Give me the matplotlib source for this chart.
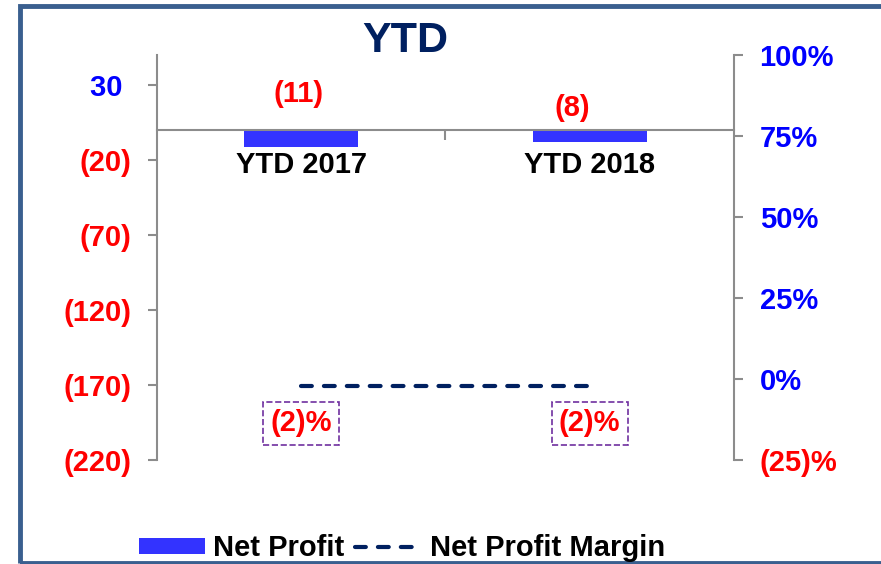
import numpy as np
import matplotlib.pyplot as plt
from matplotlib.patches import Rectangle, Patch
from matplotlib.lines import Line2D

plt.rcParams['font.family'] = ['Liberation Sans', 'DejaVu Sans']
plt.rcParams['font.weight'] = 'bold'

categories = ["YTD 2017", "YTD 2018"]
net_profit = [-11, -8]
profit_margin = [-2, -2]

left_ticks = [30, -20, -70, -120, -170, -220]
right_ticks = [100, 75, 50, 25, 0, -25]

blue = "#3333FF"
navy = "#002060"
red = "#FF0000"
tick_blue = "#0000FF"
grey = "#8C8C8C"
fs = 21

fig = plt.figure(figsize=(8.81, 5.64), dpi=100)
ax = fig.add_axes([0.178, 0.184, 0.655, 0.718])
ax2 = ax.twinx()

x = np.arange(len(categories))
ax.bar(x, net_profit, width=0.395, color=blue, zorder=2)
ax.set_xlim(-0.5, 1.5)
ax.set_ylim(-220, 50)
ax2.set_ylim(-25, 100)

ax2.plot(x, profit_margin, color=navy, lw=3, dashes=(2.6, 2.9),
         dash_capstyle='round', zorder=3)


def fmt_num(v):
    # positive numbers keep a trailing space, like the accounting format
    return f"({abs(v)})" if v < 0 else f"{v} "


def fmt_pct(v):
    return f"({abs(v)})%" if v < 0 else f"{v}%"


ax.set_yticks(left_ticks)
ax.set_yticklabels([fmt_num(v) for v in left_ticks])
for lab, v in zip(ax.get_yticklabels(), left_ticks):
    lab.set_color(red if v < 0 else tick_blue)
ax2.set_yticks(right_ticks)
ax2.set_yticklabels([fmt_pct(v) for v in right_ticks])
for lab, v in zip(ax2.get_yticklabels(), right_ticks):
    lab.set_color(red if v < 0 else tick_blue)

ax.tick_params(axis='y', direction='out', length=6.5, width=1.5, color=grey,
               pad=12, labelsize=fs)
ax2.tick_params(axis='y', direction='out', length=6.5, width=1.5, color=grey,
                pad=12, labelsize=fs)

# category separator tick on the zero line
ax.set_xticks([0.5])
ax.set_xticklabels([""])
ax.tick_params(axis='x', direction='out', length=7, width=1.5, color=grey)

for s in ['top', 'right']:
    ax.spines[s].set_visible(False)
for s in ['top', 'left', 'bottom']:
    ax2.spines[s].set_visible(False)
ax.spines['bottom'].set_position(('data', 0))
ax.spines['bottom'].set_color(grey)
ax.spines['bottom'].set_linewidth(1.5)
ax.spines['left'].set_color(grey)
ax.spines['left'].set_linewidth(1.5)
ax2.spines['right'].set_color(grey)
ax2.spines['right'].set_linewidth(1.5)

# category labels under the zero line
for xi, name in zip(x, categories):
    ax.annotate(name, (xi, 0), xytext=(0, -25), textcoords='offset points',
                ha='center', va='center', fontsize=fs, color='black')

# data labels for net profit
label_dx = [-0.01, -0.06]
label_dy = [26, 16]
for xi, v, dx, dy in zip(x, net_profit, label_dx, label_dy):
    ax.annotate(fmt_num(v).strip(), (xi + dx, 0), xytext=(0, dy),
                textcoords='offset points', ha='center', va='center',
                fontsize=fs, color=red)

# data labels for margin
for xi, v in zip(x, profit_margin):
    ax2.annotate(fmt_pct(v), (xi, v), xytext=(0, -27), textcoords='offset points',
                 ha='center', va='center', fontsize=fs, color=red,
                 bbox=dict(boxstyle='square,pad=0.25', fc='white', ec='#7030A0',
                           ls='--', lw=1.2))

fig.text(0.46, 0.928, "YTD", ha='center', va='center', fontsize=31, color=navy)

handles = [Patch(facecolor=blue, edgecolor='none'),
           Line2D([0], [0], color=navy, lw=3, dashes=(2.6, 2.9), dash_capstyle='round')]
fig.legend(handles, ["Net Profit", "Net Profit Margin"], loc='center',
           bbox_to_anchor=(0.456, 0.028), ncol=2, frameon=False, fontsize=fs,
           handlelength=2.26, handleheight=0.5, handletextpad=0.3,
           columnspacing=0.35, borderpad=0, borderaxespad=0)

fig.patches.append(Rectangle((19.5 / 881, 1.5 / 564), 1.0, 557 / 564,
                             transform=fig.transFigure, fill=False,
                             ec='#3A5F8F', lw=3.5, clip_on=False))

fig.savefig("out.png", dpi=100)
